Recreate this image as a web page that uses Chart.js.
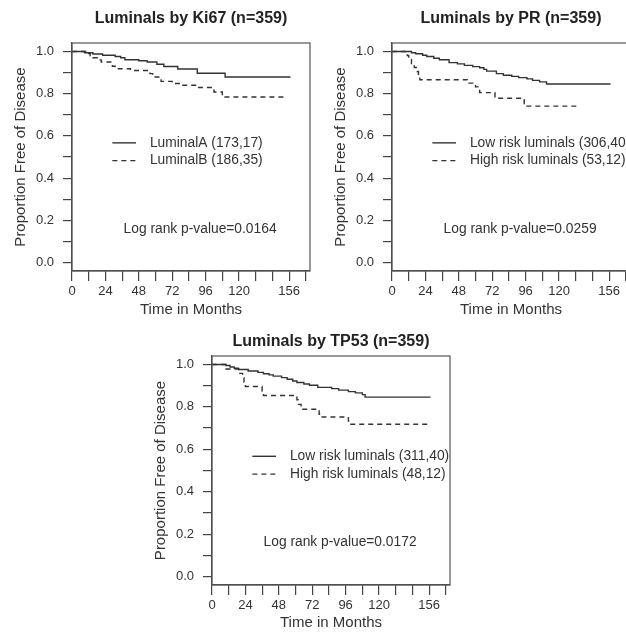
<!DOCTYPE html>
<html>
<head>
<meta charset="utf-8">
<script src="https://cdn.jsdelivr.net/npm/chart.js@4.4.0/dist/chart.umd.min.js"></script>
<style>
  html, body { margin: 0; padding: 0; background: #fff; overflow: hidden; width: 626px; height: 633px; }
  .panel { position: absolute; width: 320px; height: 320px; }
  #p1 { left: 0; top: 0; }
  #p2 { left: 320px; top: 0; }
  #p3 { left: 140px; top: 313px; }
</style>
</head>
<body>
<div class="panel" id="p1"><canvas id="c1" width="320" height="320"></canvas></div>
<div class="panel" id="p2"><canvas id="c2" width="320" height="320"></canvas></div>
<div class="panel" id="p3"><canvas id="c3" width="320" height="320"></canvas></div>
<script>
// ================= DATA =================
const monthTicks = [0, 12, 24, 36, 48, 60, 72, 84, 96, 108, 120, 132, 144, 156, 168];
const monthLabelAt = [0, 24, 48, 72, 96, 120, 156];
const propTicks = [0, 0.1, 0.2, 0.3, 0.4, 0.5, 0.6, 0.7, 0.8, 0.9, 1.0];

// Ki67
const ki67TimesA = [0, 9, 15, 22, 31, 35, 38, 48, 54, 61, 66, 76, 90, 110, 157];
const ki67SurvA  = [1, 0.994, 0.988, 0.982, 0.976, 0.970, 0.961, 0.956, 0.950, 0.939, 0.929, 0.917, 0.897, 0.879, 0.879];
const ki67TimesB = [0, 10, 13, 15, 18, 21, 29, 31, 42, 56, 58, 64, 72, 78, 91, 100, 102, 108, 152];
const ki67SurvB  = [1, 0.990, 0.980, 0.970, 0.960, 0.950, 0.930, 0.918, 0.910, 0.895, 0.879, 0.858, 0.848, 0.840, 0.829, 0.818, 0.808, 0.784, 0.784];

// PR
const prTimesLow = [0, 14, 17, 22, 25, 30, 34, 41, 47, 52, 58, 63, 66, 68, 75, 80, 86, 91, 97, 101, 106, 111, 157];
const prSurvLow  = [1, 0.994, 0.989, 0.982, 0.976, 0.968, 0.961, 0.947, 0.941, 0.934, 0.928, 0.923, 0.915, 0.907, 0.895, 0.887, 0.882, 0.876, 0.870, 0.863, 0.856, 0.846, 0.846];
const prTimesHigh = [0, 11, 12, 14, 16, 18, 19, 20, 54, 60, 63, 74, 95, 133];
const prSurvHigh  = [1, 0.981, 0.962, 0.943, 0.924, 0.905, 0.886, 0.866, 0.850, 0.832, 0.805, 0.778, 0.741, 0.741];

// TP53
const tpTimesLow = [0, 10, 13, 16, 19, 26, 33, 37, 41, 44, 50, 54, 58, 61, 66, 70, 76, 86, 91, 98, 103, 108, 110, 157];
const tpSurvLow  = [1, 0.995, 0.988, 0.982, 0.976, 0.969, 0.963, 0.956, 0.951, 0.945, 0.938, 0.930, 0.922, 0.915, 0.908, 0.902, 0.892, 0.886, 0.879, 0.872, 0.866, 0.858, 0.846, 0.846];
const tpTimesHigh = [0, 10, 20, 22, 23, 24, 36, 37, 61, 62, 64, 77, 78, 98, 99, 155];
const tpSurvHigh  = [1, 0.979, 0.958, 0.938, 0.917, 0.896, 0.875, 0.854, 0.833, 0.812, 0.789, 0.765, 0.752, 0.733, 0.718, 0.718];

// ================= HELPERS =================
Chart.defaults.font.family = '"Liberation Sans", Arial, sans-serif';
Chart.defaults.color = '#333';

function toPoints(times, surv) {
  return times.map((t, i) => ({ x: t, y: surv[i] }));
}

// frame, in-plot legend and p-value
const kmAnnotations = {
  id: 'kmAnnotations',
  afterDatasetsDraw(chart, args, opts) {
    const { ctx, chartArea: a, scales: { x, y } } = chart;
    ctx.save();
    ctx.strokeStyle = '#555';
    ctx.lineWidth = 1.2;
    ctx.strokeRect(a.left, a.top, a.right - a.left, a.bottom - a.top);

    ctx.font = '13.8px "Liberation Sans", Arial, sans-serif';
    ctx.fillStyle = '#333';
    ctx.textBaseline = 'middle';
    chart.data.datasets.forEach((ds, i) => {
      const yy = y.getPixelForValue(opts.rows[i]);
      ctx.strokeStyle = ds.borderColor;
      ctx.lineWidth = ds.borderWidth;
      ctx.setLineDash(ds.borderDash || []);
      ctx.beginPath();
      ctx.moveTo(x.getPixelForValue(29), yy);
      ctx.lineTo(x.getPixelForValue(46), yy);
      ctx.stroke();
      ctx.setLineDash([]);
      ctx.fillText(ds.label, x.getPixelForValue(56), yy);
    });
    ctx.textAlign = 'center';
    ctx.fillText(opts.pValue, x.getPixelForValue(92), y.getPixelForValue(0.16));
    ctx.restore();
  }
};

function makeChart(id, title, titlePad, xHeight, sets, pValue) {
  return new Chart(document.getElementById(id), {
    type: 'line',
    data: {
      datasets: sets.map((s, i) => ({
        label: s.label,
        data: toPoints(s.times, s.surv),
        borderColor: '#333',
        borderWidth: 1.4,
        borderDash: i === 0 ? [] : [5, 4],
        pointRadius: 0,
        stepped: 'before',
        fill: false
      }))
    },
    options: {
      responsive: false,
      animation: false,
      layout: { padding: { left: 0, right: 10, top: 0, bottom: 0 } },
      plugins: {
        legend: { display: false },
        tooltip: { enabled: false },
        title: {
          display: true,
          text: title,
          fullSize: false,
          color: '#222',
          font: { size: 16, weight: 'bold' },
          padding: titlePad
        },
        kmAnnotations: { rows: [0.567, 0.483], pValue: pValue }
      },
      scales: {
        x: {
          type: 'linear',
          min: 0,
          max: 171,
          afterBuildTicks: s => { s.ticks = monthTicks.map(v => ({ value: v })); },
          afterFit: s => { s.height = xHeight; },
          grid: { drawOnChartArea: false, drawTicks: true, tickLength: 10, color: '#444', lineWidth: 1.2 },
          border: { display: true, color: '#444', width: 1.2 },
          ticks: {
            autoSkip: false,
            maxRotation: 0,
            padding: 3,
            color: '#333',
            font: { size: 13 },
            callback: v => monthLabelAt.includes(v) ? String(v) : ''
          },
          title: {
            display: true,
            text: 'Time in Months',
            color: '#333',
            font: { size: 15 },
            padding: { top: 0, bottom: 1 }
          }
        },
        y: {
          type: 'linear',
          min: -0.04,
          max: 1.04,
          afterBuildTicks: s => { s.ticks = propTicks.map(v => ({ value: v })); },
          afterFit: s => { s.width = 72; },
          grid: { drawOnChartArea: false, drawTicks: true, tickLength: 9, color: '#444', lineWidth: 1.2 },
          border: { display: true, color: '#444', width: 1.2 },
          ticks: {
            padding: 9,
            color: '#333',
            font: { size: 13 },
            callback: v => Math.round(v * 10) % 2 === 0 ? v.toFixed(1) : ''
          },
          title: {
            display: true,
            text: 'Proportion Free of Disease',
            color: '#333',
            font: { size: 15 },
            padding: { top: 12, bottom: 0 }
          }
        }
      }
    },
    plugins: [kmAnnotations]
  });
}

// ================= CHARTS =================
makeChart('c1', 'Luminals by Ki67 (n=359)', { top: 8.7, bottom: 15.1 }, 49, [
  { label: 'LuminalA (173,17)', times: ki67TimesA, surv: ki67SurvA },
  { label: 'LuminalB (186,35)', times: ki67TimesB, surv: ki67SurvB }
], 'Log rank p-value=0.0164');

makeChart('c2', 'Luminals by PR (n=359)', { top: 8.7, bottom: 15.1 }, 49, [
  { label: 'Low risk luminals (306,40)', times: prTimesLow, surv: prSurvLow },
  { label: 'High risk luminals (53,12)', times: prTimesHigh, surv: prSurvHigh }
], 'Log rank p-value=0.0259');

makeChart('c3', 'Luminals by TP53 (n=359)', { top: 19.4, bottom: 4.4 }, 48, [
  { label: 'Low risk luminals (311,40)', times: tpTimesLow, surv: tpSurvLow },
  { label: 'High risk luminals (48,12)', times: tpTimesHigh, surv: tpSurvHigh }
], 'Log rank p-value=0.0172');
</script>
</body>
</html>
